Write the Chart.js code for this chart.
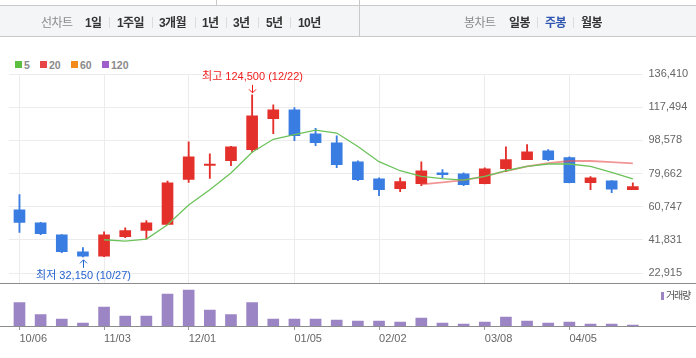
<!DOCTYPE html>
<html><head><meta charset="utf-8">
<script src="https://cdn.jsdelivr.net/npm/chart.js@4.4.1/dist/chart.umd.min.js"></script>
<style>
html,body{margin:0;padding:0;background:#fff;}
body{width:696px;height:358px;position:relative;overflow:hidden;font-family:"Liberation Sans","Noto Sans CJK KR",sans-serif;}
canvas{position:absolute;left:0;top:0;}
#tb{position:absolute;left:0;top:5px;width:696px;height:30px;background:#f4f5f7;border-top:1px solid #c9c9c9;border-bottom:1px solid #c9c9c9;z-index:2;}
#vdiv{position:absolute;left:359px;top:0;width:1px;height:37px;background:#c9c9c9;z-index:3;}
#vdiv2{position:absolute;left:216px;top:0;width:1px;height:5px;background:#c9c9c9;z-index:3;}
.t{position:absolute;top:16px;font-size:12px;line-height:14px;white-space:nowrap;letter-spacing:-0.6px;z-index:4;}
.g{color:#8a8a8a;}
.b{color:#333;font-weight:bold;}
.sel{color:#2f56b0;font-weight:bold;}
.sep{position:absolute;top:17px;width:1px;height:11px;background:#dcdcdc;z-index:4;}
.lg{position:absolute;top:61px;width:7px;height:7px;}
.lt{position:absolute;top:59px;font-size:10.5px;line-height:12px;font-weight:bold;color:#8a8a8a;}
.hl{position:absolute;left:0;width:696px;height:1px;background:#8c8c8c;}
</style>
</head><body>
<div id="tb"></div><div id="vdiv"></div><div id="vdiv2"></div>
<div class="t g" style="left:41px">선차트</div>
<div class="t b" style="left:85px">1일</div><div class="sep" style="left:109px"></div>
<div class="t b" style="left:117px">1주일</div><div class="sep" style="left:152px"></div>
<div class="t b" style="left:159px">3개월</div><div class="sep" style="left:195px"></div>
<div class="t b" style="left:202px">1년</div><div class="sep" style="left:226px"></div>
<div class="t b" style="left:233px">3년</div><div class="sep" style="left:258px"></div>
<div class="t b" style="left:266px">5년</div><div class="sep" style="left:290px"></div>
<div class="t b" style="left:298px">10년</div>
<div class="t g" style="left:464px">봉차트</div>
<div class="t b" style="left:509px">일봉</div><div class="sep" style="left:537px"></div>
<div class="t sel" style="left:545px">주봉</div><div class="sep" style="left:573px"></div>
<div class="t b" style="left:581px">월봉</div>

<div class="lg" style="left:15px;background:#5dbf3f"></div><div class="lt" style="left:24px">5</div>
<div class="lg" style="left:40px;background:#e84646"></div><div class="lt" style="left:49px">20</div>
<div class="lg" style="left:71px;background:#f28a1c"></div><div class="lt" style="left:80px">60</div>
<div class="lg" style="left:102px;background:#a05ecb"></div><div class="lt" style="left:111px">120</div>

<canvas id="pc" width="696" height="358"></canvas>
<canvas id="vc" width="696" height="358"></canvas>
<div class="hl" style="top:283px"></div>
<div class="hl" style="top:326px"></div>
<div style="position:absolute;left:661px;top:292px;width:3px;height:8px;background:#9b85c4"></div>
<div style="position:absolute;left:666px;top:289px;font-size:10px;line-height:13px;color:#555;letter-spacing:-1.2px;white-space:nowrap">거래량</div>
<script>
const weeks = ['10/06','10/13','10/20','10/27','11/03','11/10','11/17','11/24','12/01','12/08','12/15','12/22','12/29','01/05','01/12','01/19','01/26','02/02','02/09','02/16','02/23','03/01','03/08','03/15','03/22','03/29','04/05','04/12','04/19','04/26'];
const xTickLabels = ['10/06','11/03','12/01','01/05','02/02','03/08','04/05'];
const opens  = [59000,51600,44750,35050,32500,43600,47200,50650,76300,84300,86950,93250,110900,116050,102350,97200,86400,76700,71000,73850,80100,79550,73850,82400,87550,92650,88700,74400,75550,70450];
const closes = [51800,45300,35050,32500,44700,47200,51600,74400,89250,85100,94950,112600,116050,101200,97250,84700,76150,70450,75000,81250,79000,73300,82400,87550,92100,87550,74400,77250,70700,72150];
const highs  = [67600,51900,44900,37500,46450,48750,52900,75400,97800,90950,95100,124500,118900,117200,105500,101200,86950,77250,77250,86400,81850,80100,82950,94950,96100,93250,89250,77850,75700,74400];
const lows   = [46100,44750,34500,32150,32300,43050,42300,50500,74600,76850,84100,91800,102350,98350,95500,82950,75550,67000,69300,72700,77250,72700,73800,80700,87500,86950,74300,70450,68700,70400];
const ma5    = [null,null,null,null,41900,41150,42300,50450,61700,70400,79950,91800,99200,101800,104450,102750,95100,86400,81250,78000,76700,75950,78000,81250,83700,85100,85100,83700,80300,76550];
const ma20   = [null,null,null,null,null,null,null,null,null,null,null,null,null,null,null,null,null,null,null,73450,74600,75950,78000,81100,83700,85650,86800,86800,86200,85400];
const volumes = [3500000,1700000,1050000,450000,2850000,1500000,1500000,4800000,5400000,2400000,1700000,3500000,1050000,1050000,1050000,900000,750000,750000,600000,1200000,450000,300000,600000,1350000,750000,450000,600000,300000,300000,150000];
const yTicks = [22915,41831,60747,79662,98578,117494,136410];
const volumeMax = 6300000;

const RED='#e3302a', BLUE='#3a7de2';
const candleColors = opens.map((o,i)=> closes[i]>=o ? RED : BLUE);
const fmt = v => v.toLocaleString('en-US');
const FONT = '"Liberation Sans","Noto Sans CJK KR",sans-serif';
const yStep = yTicks[1]-yTicks[0];

const annot = {
  id:'annot',
  afterDatasetsDraw(chart){
    const ctx=chart.ctx, xs=chart.scales.x, ys=chart.scales.y;
    let hi=0, lo=0;
    highs.forEach((v,i)=>{ if(v>highs[hi]) hi=i; });
    lows.forEach((v,i)=>{ if(v<lows[lo]) lo=i; });
    ctx.save();
    ctx.font='11px '+FONT;
    ctx.textAlign='center'; ctx.textBaseline='middle';
    ctx.lineWidth=1;
    // high
    let px=Math.round(xs.getPixelForValue(hi))+0.5, py=ys.getPixelForValue(highs[hi]);
    ctx.fillStyle=ctx.strokeStyle='#f01c1c';
    ctx.fillText('최고 '+fmt(highs[hi])+' ('+weeks[hi]+')', px, py-18);
    ctx.beginPath(); ctx.moveTo(px,py-10); ctx.lineTo(px,py-2);
    ctx.moveTo(px-3.5,py-5.5); ctx.lineTo(px,py-2); ctx.lineTo(px+3.5,py-5.5); ctx.stroke();
    // low
    px=Math.round(xs.getPixelForValue(lo))+0.5; py=ys.getPixelForValue(lows[lo]);
    ctx.fillStyle=ctx.strokeStyle='#2463cf';
    ctx.fillText('최저 '+fmt(lows[lo])+' ('+weeks[lo]+')', px, py+19);
    ctx.beginPath(); ctx.moveTo(px,py+11); ctx.lineTo(px,py+3);
    ctx.moveTo(px-3.5,py+6.5); ctx.lineTo(px,py+3); ctx.lineTo(px+3.5,py+6.5); ctx.stroke();
    ctx.restore();
  }
};

const gridCol = ctx => xTickLabels.includes(weeks[ctx.index]) ? '#ececec' : 'rgba(0,0,0,0)';

new Chart(document.getElementById('pc'), {
  type:'bar',
  data:{
    labels:weeks,
    datasets:[
      {type:'line', data:ma5, borderColor:'#6cc25a', borderWidth:1.3, pointRadius:0, order:0, spanGaps:false},
      {type:'line', data:ma20, borderColor:'rgba(232,80,80,0.6)', borderWidth:1.8, pointRadius:0, order:0, spanGaps:false},
      {data:opens.map((o,i)=>[o,closes[i]]), backgroundColor:candleColors, barThickness:11, grouped:false, borderSkipped:false, minBarLength:1, order:1},
      {data:lows.map((l,i)=>[l,highs[i]]), backgroundColor:candleColors, barThickness:1.2, grouped:false, borderSkipped:false, order:2}
    ]
  },
  options:{
    responsive:false, animation:false, devicePixelRatio:1,
    layout:{padding:{left:8.9, top:74, right:0, bottom:75}},
    plugins:{legend:{display:false}, tooltip:{enabled:false}},
    scales:{
      x:{type:'category', offset:true,
         grid:{offset:false, drawTicks:false, color:gridCol},
         ticks:{display:false}, border:{display:false},
         afterFit:s=>{s.height=0;}},
      y:{position:'right', min:yTicks[0]-0.3*yStep, max:yTicks[yTicks.length-1],
         afterBuildTicks:s=>{s.ticks=yTicks.map(v=>({value:v}));},
         afterFit:s=>{s.width=52.6;},
         grid:{color:'#ececec', drawTicks:false}, border:{display:false},
         ticks:{padding:5, color:'#666', font:{size:11, family:FONT}, callback:v=>fmt(v)}}
    }
  },
  plugins:[annot]
});

new Chart(document.getElementById('vc'), {
  type:'bar',
  data:{labels:weeks, datasets:[{data:volumes, backgroundColor:'#9b85c4', barThickness:11}]},
  options:{
    responsive:false, animation:false, devicePixelRatio:1,
    layout:{padding:{left:8.9, top:284, right:52.6, bottom:0}},
    plugins:{legend:{display:false}, tooltip:{enabled:false}},
    scales:{
      x:{type:'category', offset:true,
         grid:{offset:false, drawOnChartArea:false, drawTicks:true, tickLength:4,
               color:ctx=> xTickLabels.includes(weeks[ctx.index]) ? '#999' : 'rgba(0,0,0,0)'},
         border:{display:false},
         ticks:{autoSkip:false, maxRotation:0, align:'start', padding:2, color:'#666', font:{size:11, family:FONT},
                callback:(v,i)=> xTickLabels.includes(weeks[i]) ? weeks[i] : ''},
         afterFit:s=>{s.height=32;}},
      y:{display:false, min:0, max:volumeMax}
    }
  }
});
</script>
</body></html>
